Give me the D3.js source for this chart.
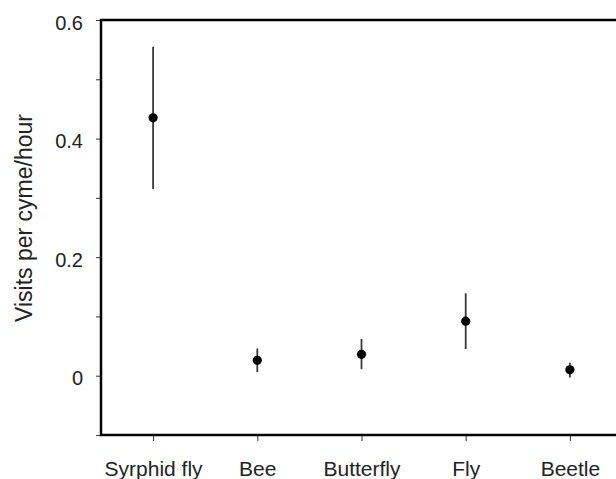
<!DOCTYPE html>
<html><head><meta charset="utf-8">
<script src="https://cdn.jsdelivr.net/npm/d3@7"></script>
<style>body{margin:0;background:#fff;overflow:hidden}svg{display:block}</style>
</head><body>
<script>
const categories = ["Syrphid fly", "Bee", "Butterfly", "Fly", "Beetle"];
const means = [0.435, 0.026, 0.036, 0.092, 0.010];
const lower = [0.315, 0.006, 0.011, 0.045, -0.003];
const upper = [0.555, 0.046, 0.062, 0.139, 0.022];
const majorTicks = [0, 0.2, 0.4, 0.6];
const minorTicks = [-0.1, 0.1, 0.3, 0.5];
const yLabel = "Visits per cyme/hour";

(function () {
const W = 616, H = 479;
const mLeft = 101, mTop = 20, mBottom = 435, mRight = 622;
const svg = d3.select("body").append("svg").attr("width", W).attr("height", H);
const font = "Liberation Sans, Arial, sans-serif";

const x = d3.scalePoint().domain(categories).range([mLeft, mRight]).padding(0.5);
const y = d3.scaleLinear().domain([-0.1, 0.6]).range([mBottom, mTop]);

const yAx = svg.append("g").attr("transform", `translate(${mLeft},0)`)
  .call(d3.axisLeft(y).tickValues(majorTicks).tickSize(5).tickPadding(13)
    .tickFormat(d => d === 0 ? "0" : d3.format(".1f")(d)));
yAx.select(".domain").remove();
yAx.selectAll("line").attr("stroke", "#333").attr("stroke-width", 1);
yAx.selectAll("text").attr("font-family", font).attr("font-size", 20).attr("fill", "#222").attr("dy", "0.45em");

const yMin = svg.append("g").attr("transform", `translate(${mLeft},0)`)
  .call(d3.axisLeft(y).tickValues(minorTicks).tickSize(5).tickFormat(""));
yMin.select(".domain").remove();
yMin.selectAll("line").attr("stroke", "#333").attr("stroke-width", 1);

const xAx = svg.append("g").attr("transform", `translate(0,${mBottom})`)
  .call(d3.axisBottom(x).tickSize(6).tickPadding(20));
xAx.select(".domain").remove();
xAx.selectAll("line").attr("stroke", "#333").attr("stroke-width", 1);
xAx.selectAll("text").attr("font-family", font).attr("font-size", 21).attr("fill", "#222");

svg.append("rect").attr("x", mLeft).attr("y", mTop).attr("width", 660 - mLeft).attr("height", mBottom - mTop)
  .attr("fill", "none").attr("stroke", "#000").attr("stroke-width", 2.5);

svg.append("text").attr("transform", `translate(32,218) rotate(-90)`)
  .attr("text-anchor", "middle").attr("font-family", font).attr("font-size", 23).attr("fill", "#222")
  .text(yLabel);

const g = svg.append("g");
categories.forEach((c, i) => {
  g.append("line").attr("x1", x(c)).attr("x2", x(c)).attr("y1", y(lower[i])).attr("y2", y(upper[i]))
    .attr("stroke", "#3a3a3a").attr("stroke-width", 1.8);
  g.append("circle").attr("cx", x(c)).attr("cy", y(means[i])).attr("r", 4.6).attr("fill", "#000");
});
})();
</script>
</body></html>
